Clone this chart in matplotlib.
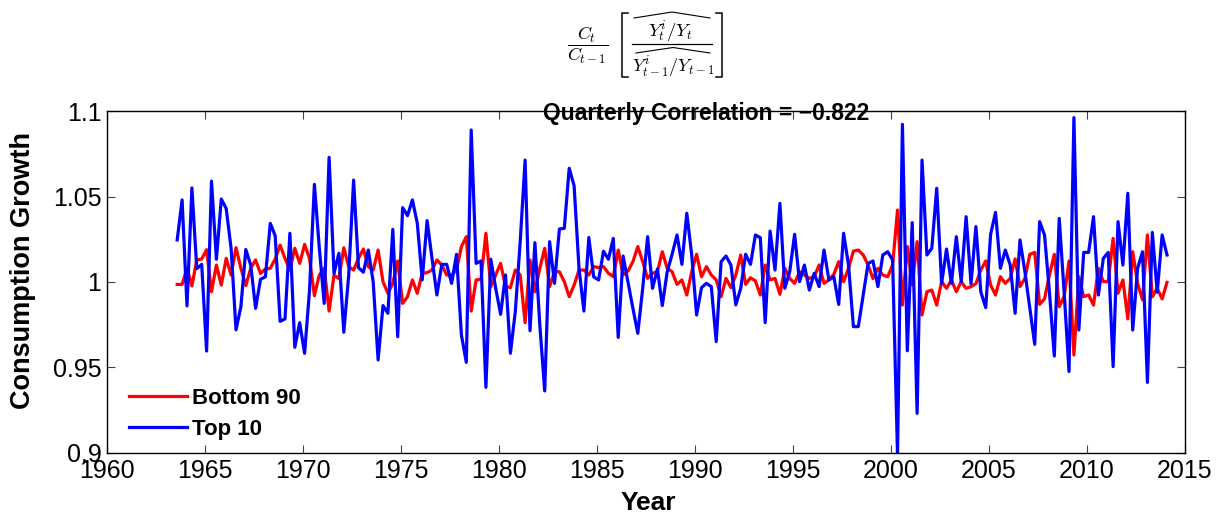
import numpy as np
import matplotlib
matplotlib.use("Agg")
import matplotlib.pyplot as plt
from matplotlib.lines import Line2D

plt.rcParams['font.family'] = ['Liberation Sans', 'DejaVu Sans']
plt.rcParams['mathtext.fontset'] = 'cm'

start_year = 1963.58
top10 = [
    1.0246, 1.048, 0.986, 1.055, 1.0078, 1.0103, 0.9596, 1.059, 1.0133, 1.0485,
    1.043, 1.0197, 0.972, 0.9856, 1.019, 1.010, 0.9846, 1.0016, 1.003, 1.0343,
    1.027, 0.977, 0.9784, 1.0285, 0.9618, 0.9762, 0.9583, 0.995, 1.0571, 1.02,
    0.9875, 1.0729, 1.005, 1.0168, 0.9706, 1.004, 1.0596, 1.0084, 1.0057, 1.0187,
    1.0, 0.9544, 0.9862, 0.9817, 1.0308, 0.968, 1.0435, 1.0388, 1.048, 1.0343,
    1.0012, 1.0359, 1.0138, 0.9924, 1.0103, 1.0103, 0.9992, 1.0162, 0.969, 0.953,
    1.0889, 1.0109, 1.0123, 0.9384, 1.0133, 0.9963, 0.9811, 1.0041, 0.9583, 0.9827,
    1.0236, 1.0713, 0.9715, 1.023, 0.9749, 0.9363, 1.0236, 0.9992, 1.031, 1.0314,
    1.0665, 1.0563, 1.008, 0.983, 1.026, 1.003, 1.0012, 1.018, 1.0133, 1.0255,
    0.9676, 1.0152, 1.0, 0.9846, 0.97, 0.9963, 1.0265, 0.9963, 1.0076, 0.9862,
    1.006, 1.0162, 1.0275, 1.0103, 1.0402, 1.0158, 0.9807, 0.9967, 0.9992, 0.9973,
    0.9651, 1.0119, 1.0152, 1.0099, 0.9866, 0.9963, 1.0162, 1.0103, 1.0275, 1.0259,
    0.9762, 1.0298, 1.007, 1.046, 0.9963, 1.006, 1.0279, 1.0002, 1.0099, 0.9953,
    1.0051, 0.9973, 1.0187, 1.0012, 1.0031, 0.9869, 1.0285, 1.0099, 0.9739, 0.9739,
    0.9924, 1.0109, 1.0123, 0.9973, 1.0158, 1.0177, 1.0129, 0.899, 1.0922, 0.9598,
    1.0347, 0.9232, 1.0713, 1.0158, 1.0197, 1.0548, 0.9992, 1.0193, 0.9992, 1.0265,
    1.0002, 1.0382, 0.999, 1.0324, 0.9943, 0.985, 1.0279, 1.0407, 1.008, 1.0187,
    1.0099, 0.9817, 1.0246, 1.006, 0.9846, 0.9635, 1.0353, 1.0275, 0.9943, 0.9567,
    1.0372, 0.9943, 0.9476, 1.0961, 0.9719, 1.0173, 1.0173, 1.0382, 0.9924, 1.0138,
    1.0173, 0.9505, 1.0353, 1.0099, 1.0519, 0.9719, 1.008, 1.0177, 0.9413, 1.029,
    0.994, 1.0275, 1.0158,
]
bottom90 = [
    0.9986, 0.9986, 1.008, 0.9977, 1.0129, 1.0135, 1.0189, 0.9943, 1.0099, 0.9982,
    1.0138, 1.0041, 1.0201, 1.008, 0.9979, 1.008, 1.0129, 1.005, 1.0076, 1.008,
    1.0135, 1.0216, 1.0138, 1.007, 1.0197, 1.0109, 1.022, 1.0138, 0.992, 1.0041,
    1.008, 0.983, 1.004, 1.002, 1.020, 1.009, 1.007, 1.0138, 1.0193, 1.009,
    1.007, 1.0187, 1.0002, 0.9934, 0.9992, 1.0123, 0.9875, 0.9914, 1.0012, 0.9934,
    1.0051, 1.0055, 1.007, 1.0129, 1.0099, 1.0041, 1.004, 1.007, 1.0207, 1.0265,
    0.983, 1.0012, 1.0016, 1.0285, 0.9973, 1.0041, 1.0109, 0.9973, 0.9967, 1.007,
    1.0041, 0.9762, 1.0129, 0.9943, 1.008, 1.0197, 0.9973, 1.006, 1.006, 1.0002,
    0.9914, 0.9982, 1.007, 1.007, 1.0041, 1.009, 1.0084, 1.009, 1.0051, 1.0031,
    1.0187, 1.0041, 1.0064, 1.0119, 1.0207, 1.0119, 1.0021, 1.0051, 1.006, 1.0177,
    1.008, 1.006, 0.9986, 1.0012, 0.9924, 1.006, 1.0162, 1.0031, 1.009, 1.0041,
    1.0012, 0.9914, 1.0021, 0.9967, 1.0041, 1.0158, 0.9986, 1.0025, 1.0006, 0.9924,
    1.0099, 1.0012, 1.0021, 0.9928, 1.008, 1.0021, 0.9992, 1.006, 1.0041, 1.0021,
    1.0031, 1.0099, 0.9992, 1.0012, 1.0045, 1.0119, 1.0002, 1.008, 1.0181, 1.0187,
    1.0158, 1.0099, 1.002, 1.008, 1.0041, 1.0031, 1.0099, 1.0421, 0.9865, 1.0207,
    0.9982, 1.0236, 0.9807, 0.9943, 0.9953, 0.9865, 1.0002, 0.9963, 1.0012, 0.9943,
    1.0002, 0.9963, 0.9973, 0.999, 1.007, 1.0123, 0.9982, 0.9924, 1.0031, 0.9992,
    1.0021, 1.0135, 0.9973, 1.0021, 1.0162, 1.0173, 0.9869, 0.9901, 1.0041, 1.0162,
    0.9856, 0.9914, 1.0123, 0.9573, 1.0031, 0.9914, 0.9924, 0.9865, 1.008, 1.0002,
    1.0002, 1.0255, 0.9934, 1.0012, 0.9784, 1.0177, 0.9992, 0.9895, 1.0275, 0.9914,
    0.9963, 0.9901, 0.9998,
]
xticks = [1960, 1965, 1970, 1975, 1980, 1985, 1990, 1995, 2000, 2005, 2010, 2015]
yticks = [0.9, 0.95, 1.0, 1.05, 1.1]
ytick_labels = ['0.9', '0.95', '1', '1.05', '1.1']
corr_text = 'Quarterly Correlation = \u22120.822'
title_outer = r'$\dfrac{C_t}{C_{t-1}}$'
title_num = r'$Y^i_t/Y_t$'
title_den = r'$Y^i_{t-1}/Y_{t-1}$'

t = start_year + 0.25 * np.arange(len(top10))

W, H = 1226, 519
fig = plt.figure(figsize=(W / 100, H / 100), dpi=100)
ax = fig.add_axes([0.0873, 0.1272, 0.8793, 0.6589])
ax.plot(t, bottom90, color='#ff0000', lw=2.3, label='Bottom 90')
ax.plot(t, top10, color='#0000ff', lw=2.3, label='Top 10')

ax.set_xlim(1960, 2015)
ax.set_ylim(0.9, 1.1)
ax.set_xticks(xticks)
ax.set_xticklabels([str(v) for v in xticks])
ax.set_yticks(yticks)
ax.set_yticklabels(ytick_labels)
ax.tick_params(direction='in', length=6, width=0.8, labelsize=18,
               top=True, right=True, color='#444444', pad=4)
for s in ax.spines.values():
    s.set_linewidth(1.0)
    s.set_color('black')

ax.set_xlabel('Year', fontsize=19, fontweight='bold')
ax.xaxis.set_label_coords(0.502, -0.112)
ax.set_ylabel('Consumption Growth', fontsize=19.5, fontweight='bold')
ax.yaxis.set_label_coords(-0.066, 0.535)

ax.text(0.556, 0.994, corr_text, transform=ax.transAxes, ha='center', va='center',
        fontsize=16.5, fontweight='bold')

leg = ax.legend(loc='lower left', frameon=False, prop={'weight': 'bold', 'size': 16},
                handlelength=2.6, handletextpad=0.25, borderaxespad=0.0,
                labelspacing=0.45, bbox_to_anchor=(0.012, 0.012))


# ---- title formula assembled piece by piece (pixel positions from the top-left)
def fx(x):
    return x / W


def fy(y):
    return 1 - y / H


def pline(xs, ys, lw=0.9):
    fig.add_artist(Line2D([fx(x) for x in xs], [fy(y) for y in ys],
                          transform=fig.transFigure, color='black', lw=lw))


fig.text(fx(588), fy(45), title_outer, ha='center', va='center', fontsize=13)
fig.text(fx(671), fy(31), title_num, ha='center', va='center', fontsize=13.5)
fig.text(fx(673), fy(67), title_den, ha='center', va='center', fontsize=13)
pline([634, 672, 710], [18, 12, 18], lw=0.8)      # hat over numerator
pline([632, 712], [44, 44])                       # inner fraction bar
pline([636, 673, 710], [53, 47.5, 53], lw=0.8)    # hat over denominator
pline([628, 622, 622, 628], [13, 13, 77, 77], lw=1.1)   # left bracket
pline([716, 722, 722, 716], [13, 13, 77, 77], lw=1.1)   # right bracket

fig.savefig('out.png', dpi=100)
